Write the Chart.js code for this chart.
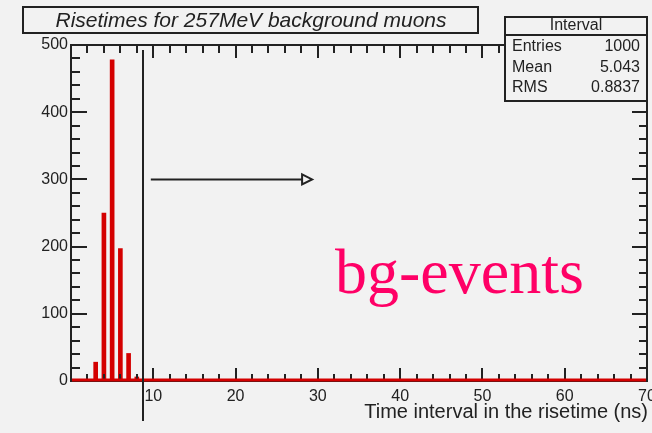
<!DOCTYPE html>
<html>
<head>
<meta charset="utf-8">
<script src="https://cdn.jsdelivr.net/npm/chart.js@4/dist/chart.umd.min.js"></script>
<style>
  html, body { margin: 0; padding: 0; background: #f2f2f2; }
  #wrap { width: 652px; height: 433px; }
</style>
</head>
<body>
<div id="wrap"><canvas id="c" width="652" height="433"></canvas></div>
<script>
// --- histogram data (1 ns bins) ---
const binCenters = [3, 4, 5, 6, 7, 8];
const counts = [28, 250, 478, 197, 41, 6];

const xTicks = [10, 20, 30, 40, 50, 60, 70];
const yTicks = [0, 100, 200, 300, 400, 500];

const titleText = 'Risetimes for 257MeV background muons';
const xTitle = 'Time interval in the risetime (ns)';
const statsName = 'Interval';
const statsRows = [['Entries', '1000'], ['Mean', '5.043'], ['RMS', '0.8837']];

const cutX = 8.7;            // vertical cut line
const arrowFrom = [9.7, 300]; // arrow start (x, y)
const arrowTo = [29.3, 300];

const INK = '#222';
const RED = '#d40000';

const rootDecor = {
    id: 'rootDecor',
    afterDraw(chart) {
        const ctx = chart.ctx;
        const a = chart.chartArea;
        const xs = chart.scales.x, ys = chart.scales.y;
        ctx.save();
        ctx.strokeStyle = INK;
        ctx.fillStyle = INK;
        ctx.lineWidth = 2;

        // frame
        ctx.strokeRect(a.left, a.top, a.right - a.left, a.bottom - a.top);

        // x ticks, bottom and top (every 2 units, major every 10)
        for (let v = 0; v <= 70; v += 2) {
            const px = Math.round(xs.getPixelForValue(v));
            const major = v % 10 === 0;
            ctx.beginPath();
            ctx.moveTo(px, a.bottom);
            ctx.lineTo(px, a.bottom - (major ? 13 : 7));
            ctx.moveTo(px, a.top);
            ctx.lineTo(px, a.top + (major ? 13 : 8));
            ctx.stroke();
        }
        // y ticks, left and right (every 20, major every 100)
        for (let v = 0; v <= 500; v += 20) {
            const py = Math.round(ys.getPixelForValue(v));
            const major = v % 100 === 0;
            ctx.beginPath();
            ctx.moveTo(a.left, py);
            ctx.lineTo(a.left + (major ? 16 : 9), py);
            ctx.moveTo(a.right, py);
            ctx.lineTo(a.right - (major ? 15 : 8), py);
            ctx.stroke();
        }

        // red histogram baseline
        ctx.strokeStyle = RED;
        ctx.lineWidth = 3;
        ctx.beginPath();
        ctx.moveTo(a.left + 1, ys.getPixelForValue(0) - 1);
        ctx.lineTo(a.right - 1, ys.getPixelForValue(0) - 1);
        ctx.stroke();

        // tick labels
        ctx.fillStyle = INK;
        ctx.font = '16px "Liberation Sans", Arial, sans-serif';
        ctx.textAlign = 'right';
        ctx.textBaseline = 'middle';
        yTicks.forEach(v => ctx.fillText(String(v), a.left - 3, ys.getPixelForValue(v)));
        ctx.textAlign = 'center';
        ctx.textBaseline = 'top';
        xTicks.forEach(v => ctx.fillText(String(v), xs.getPixelForValue(v), a.bottom + 8));

        // axis title
        ctx.font = '20px "Liberation Sans", Arial, sans-serif';
        ctx.textAlign = 'right';
        ctx.textBaseline = 'alphabetic';
        ctx.fillText(xTitle, 648, 418);

        // cut line
        ctx.strokeStyle = INK;
        ctx.lineWidth = 2;
        const cx = Math.round(xs.getPixelForValue(cutX));
        ctx.beginPath();
        ctx.moveTo(cx, a.top + 5);
        ctx.lineTo(cx, a.bottom + 40);
        ctx.stroke();

        // arrow
        const ax0 = xs.getPixelForValue(arrowFrom[0]), ay = ys.getPixelForValue(arrowFrom[1]);
        const ax1 = xs.getPixelForValue(arrowTo[0]);
        ctx.beginPath();
        ctx.moveTo(ax0, ay);
        ctx.lineTo(ax1 - 10, ay);
        ctx.stroke();
        ctx.beginPath();
        ctx.moveTo(ax1 - 10, ay - 5);
        ctx.lineTo(ax1, ay);
        ctx.lineTo(ax1 - 10, ay + 5);
        ctx.closePath();
        ctx.stroke();

        // title box
        ctx.fillStyle = '#f2f2f2';
        ctx.fillRect(23, 7, 455, 26);
        ctx.strokeRect(23, 7, 455, 26);
        ctx.fillStyle = INK;
        ctx.font = 'italic 21px "Liberation Sans", Arial, sans-serif';
        ctx.textAlign = 'center';
        ctx.textBaseline = 'middle';
        ctx.fillText(titleText, 251, 21);

        // stats box
        ctx.fillStyle = '#f2f2f2';
        ctx.fillRect(505, 17, 142, 84);
        ctx.strokeRect(505, 17, 142, 84);
        ctx.beginPath();
        ctx.moveTo(505, 35);
        ctx.lineTo(647, 35);
        ctx.stroke();
        ctx.fillStyle = INK;
        ctx.font = '16px "Liberation Sans", Arial, sans-serif';
        ctx.fillText(statsName, 576, 26);
        statsRows.forEach((r, i) => {
            const y = 47 + i * 20.5;
            ctx.textAlign = 'left';
            ctx.fillText(r[0], 512, y);
            ctx.textAlign = 'right';
            ctx.fillText(r[1], 640, y);
        });

        // annotation
        ctx.fillStyle = '#ff0066';
        ctx.font = '64px "Liberation Serif", "Times New Roman", serif';
        ctx.textAlign = 'left';
        ctx.textBaseline = 'alphabetic';
        ctx.fillText('bg-events', 335, 293);
        ctx.restore();
    }
};

new Chart(document.getElementById('c'), {
    type: 'bar',
    data: {
        datasets: [{
            data: binCenters.map((x, i) => ({ x: x, y: counts[i] })),
            backgroundColor: RED,
            barThickness: 4,
            borderWidth: 0
        }]
    },
    options: {
        responsive: false,
        animation: false,
        events: [],
        layout: { padding: { left: 71, right: 5, top: 45, bottom: 52 } },
        scales: {
            x: { type: 'linear', min: 0, max: 70, offset: false, display: false },
            y: { type: 'linear', min: 0, max: 500, display: false }
        },
        plugins: { legend: { display: false }, tooltip: { enabled: false } }
    },
    plugins: [rootDecor]
});
</script>
</body>
</html>
